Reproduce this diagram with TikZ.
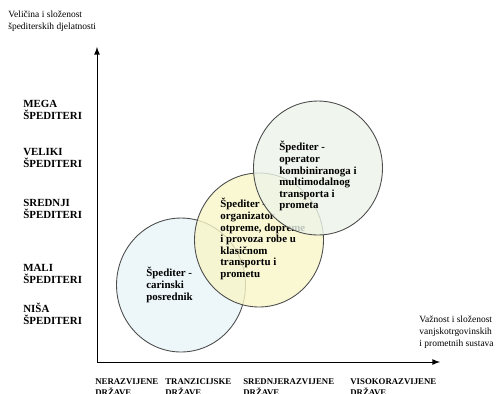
\documentclass[tikz,border=0pt]{standalone}
\usepackage{fontspec}
\setmainfont{Liberation Serif}
\usepackage{tikz}
\usepackage{xcolor}

\definecolor{krugA}{HTML}{E8F4F8}
\definecolor{krugB}{HTML}{F8F6C8}
\definecolor{krugC}{HTML}{ECF4E8}

\tikzset{
  krug/.style={draw=black!70,line width=0.5pt,fill opacity=0.8},
  razina/.style={anchor=west,align=left,font=\fontsize{6.2}{6.8}\selectfont\bfseries,inner sep=0pt},
  drzava/.style={anchor=north west,align=left,font=\fontsize{5}{6.6}\selectfont\bfseries,inner sep=0pt},
  tekst/.style={anchor=north west,align=left,font=\fontsize{6.2}{6.6}\selectfont\bfseries,inner sep=0pt},
  opis/.style={anchor=north west,align=left,font=\fontsize{5.4}{6.8}\selectfont,inner sep=0pt}
}

\begin{document}
\begin{tikzpicture}[x=0.02cm,y=-0.02cm]
			\useasboundingbox (0,0) rectangle (496,393);
			% osi
			\coordinate (o) at (97,362);
			\coordinate (ytop) at (97,47);
			\coordinate (xend) at (440,362);
			\draw[line width=0.5pt,-latex] (o)--(ytop);
			\draw[line width=0.5pt,-latex] (o)--(xend);
			\node[opis] (ynaslov) at (8,11) {Veličina i složenost\\špediterskih djelatnosti};
			\node[opis] (xnaslov) at (419,316) {Važnost i složenost\\vanjskotrgovinskih\\i prometnih sustava};
			% razine
			\node[razina] (mega) at (23,110) {MEGA\\ŠPEDITERI};
			\node[razina] (veliki) at (23,158) {VELIKI\\ŠPEDITERI};
			\node[razina] (srednji) at (23,209) {SREDNJI\\ŠPEDITERI};
			\node[razina] (mali) at (23,274) {MALI\\ŠPEDITERI};
			\node[razina] (nisa) at (23,314) {NIŠA\\ŠPEDITERI};
			% drzave
			\node[drzava] (d1) at (95,378) {NERAZVIJENE\\DRŽAVE};
			\node[drzava] (d2) at (165,378) {TRANZICIJSKE\\DRŽAVE};
			\node[drzava] (d3) at (243,378) {SREDNJERAZVIJENE\\DRŽAVE};
			\node[drzava] (d4) at (350,378) {VISOKORAZVIJENE\\DRŽAVE};
			% krugovi
			\filldraw[krug,fill=krugA] (181,285) circle [x radius=1.29cm,y radius=1.34cm];
			\node[tekst] (carinski) at (146,267) {Špediter -\\carinski\\posrednik};
			\filldraw[krug,fill=krugB] (259,240) circle [x radius=1.29cm,y radius=1.34cm];
			\node[tekst] (klasicni) at (220,198) {Špediter -\\organizator\\otpreme, dopreme\\i provoza robe u\\klasičnom\\transportu i\\prometu};
			\filldraw[krug,fill=krugC] (318,168) circle [x radius=1.29cm,y radius=1.34cm];
			\node[tekst] (kombinirani) at (279,141) {Špediter -\\operator\\kombiniranoga i\\multimodalnog\\transporta i\\prometa};
		\end{tikzpicture}
\end{document}
